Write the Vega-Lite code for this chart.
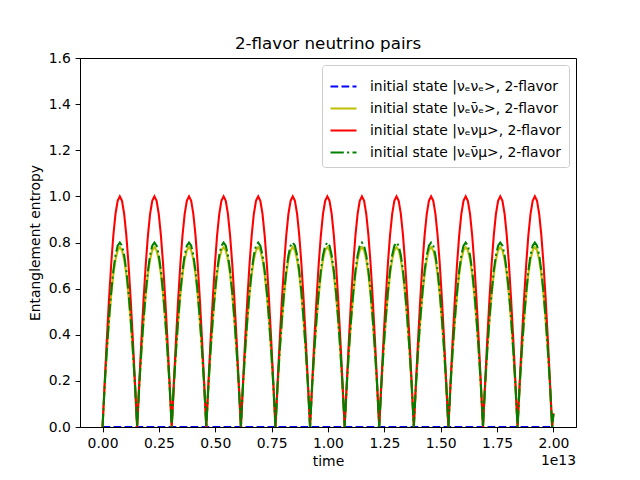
{
  "$schema": "https://vega.github.io/schema/vega-lite/v6.json",
  "width": 496,
  "height": 369,
  "autosize": {"type": "none"},
  "padding": {"left": 80, "top": 58, "right": 64, "bottom": 53},
  "title": {"text": "2-flavor neutrino pairs", "fontSize": 16.7, "fontWeight": "normal", "font": "DejaVu Sans", "color": "black", "offset": -2},
  "data": {"values": [
    {"t":0,"r":0,"y":0,"g":0,"b":0},{"t":0.0096,"r":0.195,"y":0.179,"g":0.184,"b":0},{"t":0.0192,"r":0.383,"y":0.329,"g":0.337,"b":0},{"t":0.0288,"r":0.556,"y":0.459,"g":0.471,"b":0},{"t":0.0384,"r":0.707,"y":0.571,"g":0.586,"b":0},{"t":0.0479,"r":0.831,"y":0.661,"g":0.678,"b":0},{"t":0.0575,"r":0.924,"y":0.726,"g":0.745,"b":0},{"t":0.0671,"r":0.981,"y":0.766,"g":0.786,"b":0},{"t":0.0767,"r":1,"y":0.78,"g":0.8,"b":0},{"t":0.0863,"r":0.981,"y":0.766,"g":0.786,"b":0},{"t":0.0959,"r":0.924,"y":0.726,"g":0.745,"b":0},{"t":0.1055,"r":0.831,"y":0.661,"g":0.678,"b":0},{"t":0.1151,"r":0.707,"y":0.571,"g":0.586,"b":0},{"t":0.1246,"r":0.556,"y":0.459,"g":0.471,"b":0},{"t":0.1342,"r":0.383,"y":0.329,"g":0.337,"b":0},{"t":0.1438,"r":0.195,"y":0.179,"g":0.184,"b":0},
    {"t":0.1534,"r":0,"y":0,"g":0,"b":0},{"t":0.163,"r":0.195,"y":0.179,"g":0.184,"b":0},{"t":0.1726,"r":0.383,"y":0.329,"g":0.337,"b":0},{"t":0.1822,"r":0.556,"y":0.459,"g":0.471,"b":0},{"t":0.1918,"r":0.707,"y":0.571,"g":0.586,"b":0},{"t":0.2013,"r":0.831,"y":0.661,"g":0.678,"b":0},{"t":0.2109,"r":0.924,"y":0.726,"g":0.745,"b":0},{"t":0.2205,"r":0.981,"y":0.766,"g":0.786,"b":0},{"t":0.2301,"r":1,"y":0.78,"g":0.8,"b":0},{"t":0.2397,"r":0.981,"y":0.766,"g":0.786,"b":0},{"t":0.2493,"r":0.924,"y":0.726,"g":0.745,"b":0},{"t":0.2589,"r":0.831,"y":0.661,"g":0.678,"b":0},{"t":0.2685,"r":0.707,"y":0.571,"g":0.586,"b":0},{"t":0.278,"r":0.556,"y":0.459,"g":0.471,"b":0},{"t":0.2876,"r":0.383,"y":0.329,"g":0.337,"b":0},{"t":0.2972,"r":0.195,"y":0.179,"g":0.184,"b":0},
    {"t":0.3068,"r":0,"y":0,"g":0,"b":0},{"t":0.3164,"r":0.195,"y":0.179,"g":0.184,"b":0},{"t":0.326,"r":0.383,"y":0.329,"g":0.337,"b":0},{"t":0.3356,"r":0.556,"y":0.459,"g":0.471,"b":0},{"t":0.3452,"r":0.707,"y":0.571,"g":0.586,"b":0},{"t":0.3547,"r":0.831,"y":0.661,"g":0.678,"b":0},{"t":0.3643,"r":0.924,"y":0.726,"g":0.745,"b":0},{"t":0.3739,"r":0.981,"y":0.766,"g":0.786,"b":0},{"t":0.3835,"r":1,"y":0.78,"g":0.8,"b":0},{"t":0.3931,"r":0.981,"y":0.766,"g":0.786,"b":0},{"t":0.4027,"r":0.924,"y":0.726,"g":0.745,"b":0},{"t":0.4123,"r":0.831,"y":0.661,"g":0.678,"b":0},{"t":0.4219,"r":0.707,"y":0.571,"g":0.586,"b":0},{"t":0.4314,"r":0.556,"y":0.459,"g":0.471,"b":0},{"t":0.441,"r":0.383,"y":0.329,"g":0.337,"b":0},{"t":0.4506,"r":0.195,"y":0.179,"g":0.184,"b":0},
    {"t":0.4602,"r":0,"y":0,"g":0,"b":0},{"t":0.4698,"r":0.195,"y":0.179,"g":0.184,"b":0},{"t":0.4794,"r":0.383,"y":0.329,"g":0.337,"b":0},{"t":0.489,"r":0.556,"y":0.459,"g":0.471,"b":0},{"t":0.4986,"r":0.707,"y":0.571,"g":0.586,"b":0},{"t":0.5081,"r":0.831,"y":0.661,"g":0.678,"b":0},{"t":0.5177,"r":0.924,"y":0.726,"g":0.745,"b":0},{"t":0.5273,"r":0.981,"y":0.766,"g":0.786,"b":0},{"t":0.5369,"r":1,"y":0.78,"g":0.8,"b":0},{"t":0.5465,"r":0.981,"y":0.766,"g":0.786,"b":0},{"t":0.5561,"r":0.924,"y":0.726,"g":0.745,"b":0},{"t":0.5657,"r":0.831,"y":0.661,"g":0.678,"b":0},{"t":0.5753,"r":0.707,"y":0.571,"g":0.586,"b":0},{"t":0.5848,"r":0.556,"y":0.459,"g":0.471,"b":0},{"t":0.5944,"r":0.383,"y":0.329,"g":0.337,"b":0},{"t":0.604,"r":0.195,"y":0.179,"g":0.184,"b":0},
    {"t":0.6136,"r":0,"y":0,"g":0,"b":0},{"t":0.6232,"r":0.195,"y":0.179,"g":0.184,"b":0},{"t":0.6328,"r":0.383,"y":0.329,"g":0.337,"b":0},{"t":0.6424,"r":0.556,"y":0.459,"g":0.471,"b":0},{"t":0.652,"r":0.707,"y":0.571,"g":0.586,"b":0},{"t":0.6615,"r":0.831,"y":0.661,"g":0.678,"b":0},{"t":0.6711,"r":0.924,"y":0.726,"g":0.745,"b":0},{"t":0.6807,"r":0.981,"y":0.766,"g":0.786,"b":0},{"t":0.6903,"r":1,"y":0.78,"g":0.8,"b":0},{"t":0.6999,"r":0.981,"y":0.766,"g":0.786,"b":0},{"t":0.7095,"r":0.924,"y":0.726,"g":0.745,"b":0},{"t":0.7191,"r":0.831,"y":0.661,"g":0.678,"b":0},{"t":0.7287,"r":0.707,"y":0.571,"g":0.586,"b":0},{"t":0.7382,"r":0.556,"y":0.459,"g":0.471,"b":0},{"t":0.7478,"r":0.383,"y":0.329,"g":0.337,"b":0},{"t":0.7574,"r":0.195,"y":0.179,"g":0.184,"b":0},
    {"t":0.767,"r":0,"y":0,"g":0,"b":0},{"t":0.7766,"r":0.195,"y":0.179,"g":0.184,"b":0},{"t":0.7862,"r":0.383,"y":0.329,"g":0.337,"b":0},{"t":0.7958,"r":0.556,"y":0.459,"g":0.471,"b":0},{"t":0.8054,"r":0.707,"y":0.571,"g":0.586,"b":0},{"t":0.8149,"r":0.831,"y":0.661,"g":0.678,"b":0},{"t":0.8245,"r":0.924,"y":0.726,"g":0.745,"b":0},{"t":0.8341,"r":0.981,"y":0.766,"g":0.786,"b":0},{"t":0.8437,"r":1,"y":0.78,"g":0.8,"b":0},{"t":0.8533,"r":0.981,"y":0.766,"g":0.786,"b":0},{"t":0.8629,"r":0.924,"y":0.726,"g":0.745,"b":0},{"t":0.8725,"r":0.831,"y":0.661,"g":0.678,"b":0},{"t":0.8821,"r":0.707,"y":0.571,"g":0.586,"b":0},{"t":0.8916,"r":0.556,"y":0.459,"g":0.471,"b":0},{"t":0.9012,"r":0.383,"y":0.329,"g":0.337,"b":0},{"t":0.9108,"r":0.195,"y":0.179,"g":0.184,"b":0},
    {"t":0.9204,"r":0,"y":0,"g":0,"b":0},{"t":0.93,"r":0.195,"y":0.179,"g":0.184,"b":0},{"t":0.9396,"r":0.383,"y":0.329,"g":0.337,"b":0},{"t":0.9492,"r":0.556,"y":0.459,"g":0.471,"b":0},{"t":0.9588,"r":0.707,"y":0.571,"g":0.586,"b":0},{"t":0.9683,"r":0.831,"y":0.661,"g":0.678,"b":0},{"t":0.9779,"r":0.924,"y":0.726,"g":0.745,"b":0},{"t":0.9875,"r":0.981,"y":0.766,"g":0.786,"b":0},{"t":0.9971,"r":1,"y":0.78,"g":0.8,"b":0},{"t":1.0067,"r":0.981,"y":0.766,"g":0.786,"b":0},{"t":1.0163,"r":0.924,"y":0.726,"g":0.745,"b":0},{"t":1.0259,"r":0.831,"y":0.661,"g":0.678,"b":0},{"t":1.0355,"r":0.707,"y":0.571,"g":0.586,"b":0},{"t":1.045,"r":0.556,"y":0.459,"g":0.471,"b":0},{"t":1.0546,"r":0.383,"y":0.329,"g":0.337,"b":0},{"t":1.0642,"r":0.195,"y":0.179,"g":0.184,"b":0},
    {"t":1.0738,"r":0,"y":0,"g":0,"b":0},{"t":1.0834,"r":0.195,"y":0.179,"g":0.184,"b":0},{"t":1.093,"r":0.383,"y":0.329,"g":0.337,"b":0},{"t":1.1026,"r":0.556,"y":0.459,"g":0.471,"b":0},{"t":1.1122,"r":0.707,"y":0.571,"g":0.586,"b":0},{"t":1.1217,"r":0.831,"y":0.661,"g":0.678,"b":0},{"t":1.1313,"r":0.924,"y":0.726,"g":0.745,"b":0},{"t":1.1409,"r":0.981,"y":0.766,"g":0.786,"b":0},{"t":1.1505,"r":1,"y":0.78,"g":0.8,"b":0},{"t":1.1601,"r":0.981,"y":0.766,"g":0.786,"b":0},{"t":1.1697,"r":0.924,"y":0.726,"g":0.745,"b":0},{"t":1.1793,"r":0.831,"y":0.661,"g":0.678,"b":0},{"t":1.1889,"r":0.707,"y":0.571,"g":0.586,"b":0},{"t":1.1984,"r":0.556,"y":0.459,"g":0.471,"b":0},{"t":1.208,"r":0.383,"y":0.329,"g":0.337,"b":0},{"t":1.2176,"r":0.195,"y":0.179,"g":0.184,"b":0},
    {"t":1.2272,"r":0,"y":0,"g":0,"b":0},{"t":1.2368,"r":0.195,"y":0.179,"g":0.184,"b":0},{"t":1.2464,"r":0.383,"y":0.329,"g":0.337,"b":0},{"t":1.256,"r":0.556,"y":0.459,"g":0.471,"b":0},{"t":1.2656,"r":0.707,"y":0.571,"g":0.586,"b":0},{"t":1.2751,"r":0.831,"y":0.661,"g":0.678,"b":0},{"t":1.2847,"r":0.924,"y":0.726,"g":0.745,"b":0},{"t":1.2943,"r":0.981,"y":0.766,"g":0.786,"b":0},{"t":1.3039,"r":1,"y":0.78,"g":0.8,"b":0},{"t":1.3135,"r":0.981,"y":0.766,"g":0.786,"b":0},{"t":1.3231,"r":0.924,"y":0.726,"g":0.745,"b":0},{"t":1.3327,"r":0.831,"y":0.661,"g":0.678,"b":0},{"t":1.3423,"r":0.707,"y":0.571,"g":0.586,"b":0},{"t":1.3518,"r":0.556,"y":0.459,"g":0.471,"b":0},{"t":1.3614,"r":0.383,"y":0.329,"g":0.337,"b":0},{"t":1.371,"r":0.195,"y":0.179,"g":0.184,"b":0},
    {"t":1.3806,"r":0,"y":0,"g":0,"b":0},{"t":1.3902,"r":0.195,"y":0.179,"g":0.184,"b":0},{"t":1.3998,"r":0.383,"y":0.329,"g":0.337,"b":0},{"t":1.4094,"r":0.556,"y":0.459,"g":0.471,"b":0},{"t":1.419,"r":0.707,"y":0.571,"g":0.586,"b":0},{"t":1.4285,"r":0.831,"y":0.661,"g":0.678,"b":0},{"t":1.4381,"r":0.924,"y":0.726,"g":0.745,"b":0},{"t":1.4477,"r":0.981,"y":0.766,"g":0.786,"b":0},{"t":1.4573,"r":1,"y":0.78,"g":0.8,"b":0},{"t":1.4669,"r":0.981,"y":0.766,"g":0.786,"b":0},{"t":1.4765,"r":0.924,"y":0.726,"g":0.745,"b":0},{"t":1.4861,"r":0.831,"y":0.661,"g":0.678,"b":0},{"t":1.4957,"r":0.707,"y":0.571,"g":0.586,"b":0},{"t":1.5052,"r":0.556,"y":0.459,"g":0.471,"b":0},{"t":1.5148,"r":0.383,"y":0.329,"g":0.337,"b":0},{"t":1.5244,"r":0.195,"y":0.179,"g":0.184,"b":0},
    {"t":1.534,"r":0,"y":0,"g":0,"b":0},{"t":1.5436,"r":0.195,"y":0.179,"g":0.184,"b":0},{"t":1.5532,"r":0.383,"y":0.329,"g":0.337,"b":0},{"t":1.5628,"r":0.556,"y":0.459,"g":0.471,"b":0},{"t":1.5724,"r":0.707,"y":0.571,"g":0.586,"b":0},{"t":1.5819,"r":0.831,"y":0.661,"g":0.678,"b":0},{"t":1.5915,"r":0.924,"y":0.726,"g":0.745,"b":0},{"t":1.6011,"r":0.981,"y":0.766,"g":0.786,"b":0},{"t":1.6107,"r":1,"y":0.78,"g":0.8,"b":0},{"t":1.6203,"r":0.981,"y":0.766,"g":0.786,"b":0},{"t":1.6299,"r":0.924,"y":0.726,"g":0.745,"b":0},{"t":1.6395,"r":0.831,"y":0.661,"g":0.678,"b":0},{"t":1.6491,"r":0.707,"y":0.571,"g":0.586,"b":0},{"t":1.6586,"r":0.556,"y":0.459,"g":0.471,"b":0},{"t":1.6682,"r":0.383,"y":0.329,"g":0.337,"b":0},{"t":1.6778,"r":0.195,"y":0.179,"g":0.184,"b":0},
    {"t":1.6874,"r":0,"y":0,"g":0,"b":0},{"t":1.697,"r":0.195,"y":0.179,"g":0.184,"b":0},{"t":1.7066,"r":0.383,"y":0.329,"g":0.337,"b":0},{"t":1.7162,"r":0.556,"y":0.459,"g":0.471,"b":0},{"t":1.7258,"r":0.707,"y":0.571,"g":0.586,"b":0},{"t":1.7353,"r":0.831,"y":0.661,"g":0.678,"b":0},{"t":1.7449,"r":0.924,"y":0.726,"g":0.745,"b":0},{"t":1.7545,"r":0.981,"y":0.766,"g":0.786,"b":0},{"t":1.7641,"r":1,"y":0.78,"g":0.8,"b":0},{"t":1.7737,"r":0.981,"y":0.766,"g":0.786,"b":0},{"t":1.7833,"r":0.924,"y":0.726,"g":0.745,"b":0},{"t":1.7929,"r":0.831,"y":0.661,"g":0.678,"b":0},{"t":1.8025,"r":0.707,"y":0.571,"g":0.586,"b":0},{"t":1.812,"r":0.556,"y":0.459,"g":0.471,"b":0},{"t":1.8216,"r":0.383,"y":0.329,"g":0.337,"b":0},{"t":1.8312,"r":0.195,"y":0.179,"g":0.184,"b":0},
    {"t":1.8408,"r":0,"y":0,"g":0,"b":0},{"t":1.8504,"r":0.195,"y":0.179,"g":0.184,"b":0},{"t":1.86,"r":0.383,"y":0.329,"g":0.337,"b":0},{"t":1.8696,"r":0.556,"y":0.459,"g":0.471,"b":0},{"t":1.8792,"r":0.707,"y":0.571,"g":0.586,"b":0},{"t":1.8887,"r":0.831,"y":0.661,"g":0.678,"b":0},{"t":1.8983,"r":0.924,"y":0.726,"g":0.745,"b":0},{"t":1.9079,"r":0.981,"y":0.766,"g":0.786,"b":0},{"t":1.9175,"r":1,"y":0.78,"g":0.8,"b":0},{"t":1.9271,"r":0.981,"y":0.766,"g":0.786,"b":0},{"t":1.9367,"r":0.924,"y":0.726,"g":0.745,"b":0},{"t":1.9463,"r":0.831,"y":0.661,"g":0.678,"b":0},{"t":1.9559,"r":0.707,"y":0.571,"g":0.586,"b":0},{"t":1.9654,"r":0.556,"y":0.459,"g":0.471,"b":0},{"t":1.975,"r":0.383,"y":0.329,"g":0.337,"b":0},{"t":1.9846,"r":0.195,"y":0.179,"g":0.184,"b":0},
    {"t":1.9942,"r":0,"y":0,"g":0,"b":0},{"t":2.0,"r":0.06,"y":0.055,"g":0.057,"b":0}
  ]},
  "layer": [
    {
      "transform": [{"fold": ["b", "y", "r", "g"], "as": ["series", "entropy"]}],
      "mark": {"type": "line", "strokeWidth": 2.08, "clip": true},
      "encoding": {
        "x": {
          "field": "t",
          "type": "quantitative",
          "scale": {"domain": [-0.1, 2.1], "nice": false, "zero": false},
          "axis": {"values": [0, 0.25, 0.5, 0.75, 1, 1.25, 1.5, 1.75, 2], "format": ".2f", "title": "time", "titlePadding": 4}
        },
        "y": {
          "field": "entropy",
          "type": "quantitative",
          "scale": {"domain": [0, 1.6], "nice": false},
          "axis": {"values": [0, 0.2, 0.4, 0.6, 0.8, 1, 1.2, 1.4, 1.6], "format": ".1f", "title": "Entanglement entropy", "titlePadding": 6}
        },
        "color": {
          "field": "series",
          "type": "nominal",
          "scale": {"domain": ["b", "y", "r", "g"], "range": ["#0000ff", "#bfbf00", "#ff0000", "#008000"]},
          "legend": {"title": null, "labelExpr": "datum.label == 'b' ? 'initial state |νₑνₑ>, 2-flavor' : datum.label == 'y' ? 'initial state |νₑν̄ₑ>, 2-flavor' : datum.label == 'r' ? 'initial state |νₑνμ>, 2-flavor' : 'initial state |νₑν̄μ>, 2-flavor'"}
        },
        "strokeDash": {
          "field": "series",
          "type": "nominal",
          "scale": {"domain": ["b", "y", "r", "g"], "range": [[7.7, 3.3], [1, 0], [1, 0], [13.3, 3.3, 2.1, 3.3]]},
          "legend": {"title": null, "labelExpr": "datum.label == 'b' ? 'initial state |νₑνₑ>, 2-flavor' : datum.label == 'y' ? 'initial state |νₑν̄ₑ>, 2-flavor' : datum.label == 'r' ? 'initial state |νₑνμ>, 2-flavor' : 'initial state |νₑν̄μ>, 2-flavor'"}
        }
      }
    },
    {
      "data": {"values": [{}]},
      "mark": {"type": "text", "text": "1e13", "align": "right", "baseline": "middle", "dy": 34, "fontSize": 13.9, "font": "DejaVu Sans", "color": "black"},
      "encoding": {
        "x": {"datum": 2.1, "type": "quantitative"},
        "y": {"datum": 0, "type": "quantitative"}
      }
    }
  ],
  "config": {
    "font": "DejaVu Sans",
    "view": {"stroke": "black", "strokeWidth": 1},
    "axis": {
      "grid": false,
      "domainColor": "black",
      "tickColor": "black",
      "tickSize": 4.86,
      "labelPadding": 4.86,
      "labelColor": "black",
      "titleColor": "black",
      "labelFont": "DejaVu Sans",
      "titleFont": "DejaVu Sans",
      "labelFontSize": 13.9,
      "titleFontSize": 13.9,
      "titleFontWeight": "normal"
    },
    "legend": {
      "orient": "top-right",
      "offset": 7,
      "padding": 7,
      "strokeColor": "#cccccc",
      "fillColor": "white",
      "cornerRadius": 3,
      "labelFont": "DejaVu Sans",
      "labelFontSize": 13.9,
      "labelColor": "black",
      "labelOffset": 12,
      "labelLimit": 400,
      "symbolType": "stroke",
      "symbolSize": 676,
      "symbolStrokeWidth": 2.08,
      "rowPadding": -1.3
    }
  }
}
